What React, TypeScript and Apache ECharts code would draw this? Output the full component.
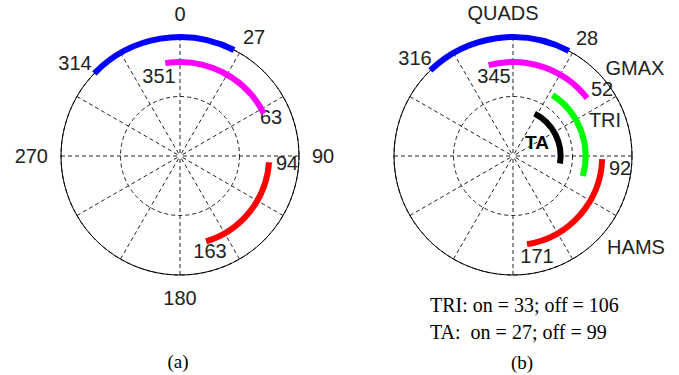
import React, { useEffect, useRef } from "react";
import * as echarts from "echarts";

// Arc data: [radius (fraction of outer circle), on-angle (deg), off-angle (deg)]
const leftArcNames = ["QUADS", "GMAX", "HAMS"];
const leftArcs: number[][] = [
  [1.0, 314, 27],
  [0.79, 351, 63],
  [0.75, 94, 163],
];
const leftColors = ["#0000ff", "#ff00ff", "#ff0000"];

const rightArcNames = ["QUADS", "GMAX", "TRI", "TA", "HAMS"];
const rightArcs: number[][] = [
  [1.0, 316, 28],
  [0.79, 345, 52],
  [0.61, 33, 106],
  [0.4, 27, 99],
  [0.75, 92, 171],
];
const rightColors = ["#0000ff", "#ff00ff", "#00ff00", "#000000", "#ff0000"];

const cardinalLabels = [0, 90, 180, 270];

const footnotes = ["TRI: on = 33; off = 106", "TA:  on = 27; off = 99"];
const panelCaptions = ["(a)", "(b)"];

const SANS = "'Liberation Sans', Arial, Helvetica, sans-serif";
const SERIF = "'Liberation Serif', 'Times New Roman', serif";

function arcSeries(polarIndex: number, arcs: number[][], colors: string[], names: string[]) {
  return arcs.map((a, i) => ({
    type: "custom",
    name: names[i],
    coordinateSystem: "polar",
    polarIndex,
    silent: true,
    data: [a],
    renderItem: (params: any, api: any) => {
      const r = api.value(0);
      const a0 = api.value(1);
      const a1 = api.value(2);
      const cs = params.coordSys;
      const p0 = api.coord([r, a0]);
      const p1 = api.coord([r, a1]);
      const R = Math.hypot(p0[0] - cs.cx, p0[1] - cs.cy);
      const s = Math.atan2(p0[1] - cs.cy, p0[0] - cs.cx);
      const e = Math.atan2(p1[1] - cs.cy, p1[0] - cs.cx);
      return {
        type: "arc",
        shape: { cx: cs.cx, cy: cs.cy, r: R, startAngle: s, endAngle: e, clockwise: true },
        style: { stroke: colors[i], lineWidth: 6, fill: null, lineCap: "butt" },
      };
    },
  }));
}

function angleAxis(polarIndex: number, showCardinal: boolean) {
  return {
    polarIndex,
    type: "value",
    min: 0,
    max: 360,
    interval: 30,
    startAngle: 90,
    clockwise: true,
    axisLine: { show: true, lineStyle: { color: "#000", width: 1 } },
    axisTick: { show: false },
    axisLabel: {
      show: showCardinal,
      margin: 13,
      color: "#222",
      fontSize: 20,
      fontFamily: SANS,
      formatter: (v: number) => (cardinalLabels.includes(v) && v !== 360 ? String(v) : ""),
    },
    splitLine: { show: true, lineStyle: { color: "#222", width: 1, type: [4, 3] } },
  };
}

function radiusAxis(polarIndex: number) {
  return {
    polarIndex,
    type: "value",
    min: 0,
    max: 1,
    interval: 0.5,
    axisLine: { show: false },
    axisTick: { show: false },
    axisLabel: { show: false },
    splitLine: { show: true, lineStyle: { color: "#222", width: 1, type: [4, 3] } },
  };
}

function txt(text: string, x: number, y: number, opts: any = {}) {
  return {
    type: "text",
    x,
    y,
    silent: true,
    style: {
      text,
      fill: "#222",
      fontSize: 20,
      fontFamily: SANS,
      textAlign: "center",
      textVerticalAlign: "middle",
      ...opts,
    },
  };
}

export default function App() {
  const ref = useRef<HTMLDivElement>(null);
  useEffect(() => {
    if (!ref.current) return;
    const chart = echarts.init(ref.current, undefined, { renderer: "svg" });
    chart.setOption({
      animation: false,
      backgroundColor: "#fff",
      polar: [
        { center: [180, 156], radius: 119 },
        { center: [513, 156], radius: 119 },
      ],
      angleAxis: [angleAxis(0, true), angleAxis(1, false)],
      radiusAxis: [radiusAxis(0), radiusAxis(1)],
      series: [
        ...arcSeries(0, leftArcs, leftColors, leftArcNames),
        ...arcSeries(1, rightArcs, rightColors, rightArcNames),
      ],
      graphic: [
        // left panel end-point labels
        txt(String(leftArcs[0][2]), 254, 37),
        txt(String(leftArcs[0][1]), 75, 63),
        txt(String(leftArcs[1][1]), 159, 76),
        txt(String(leftArcs[1][2]), 271, 117),
        txt(String(leftArcs[2][1]), 287, 163),
        txt(String(leftArcs[2][2]), 210, 251),
        // right panel labels
        txt(rightArcNames[0], 503, 13),
        txt(String(rightArcs[0][2]), 587, 38),
        txt(String(rightArcs[0][1]), 415, 58),
        txt(rightArcNames[1], 635, 68),
        txt(String(rightArcs[1][1]), 494, 76),
        txt(String(rightArcs[1][2]), 602, 89),
        txt(rightArcNames[2], 605, 120),
        txt(rightArcNames[3], 537, 142, { fontWeight: "bold", fill: "#000", fontSize: 19 }),
        txt(String(rightArcs[4][1]), 620, 168),
        txt(rightArcNames[4], 636, 247),
        txt(String(rightArcs[4][2]), 537, 256),
        // footnotes & captions
        txt(footnotes[0], 430, 305, { textAlign: "left", fontFamily: SERIF, fontSize: 20, fill: "#000" }),
        txt(footnotes[1], 430, 332, { textAlign: "left", fontFamily: SERIF, fontSize: 20, fill: "#000" }),
        txt(panelCaptions[0], 178, 361, { fontFamily: SERIF, fontSize: 19, fill: "#000" }),
        txt(panelCaptions[1], 522, 362, { fontFamily: SERIF, fontSize: 19, fill: "#000" }),
      ],
    });
    return () => chart.dispose();
  }, []);
  return (
    <div
      ref={ref}
      style={{ position: "absolute", left: 0, top: 0, width: 679, height: 375, background: "#fff" }}
    />
  );
}
